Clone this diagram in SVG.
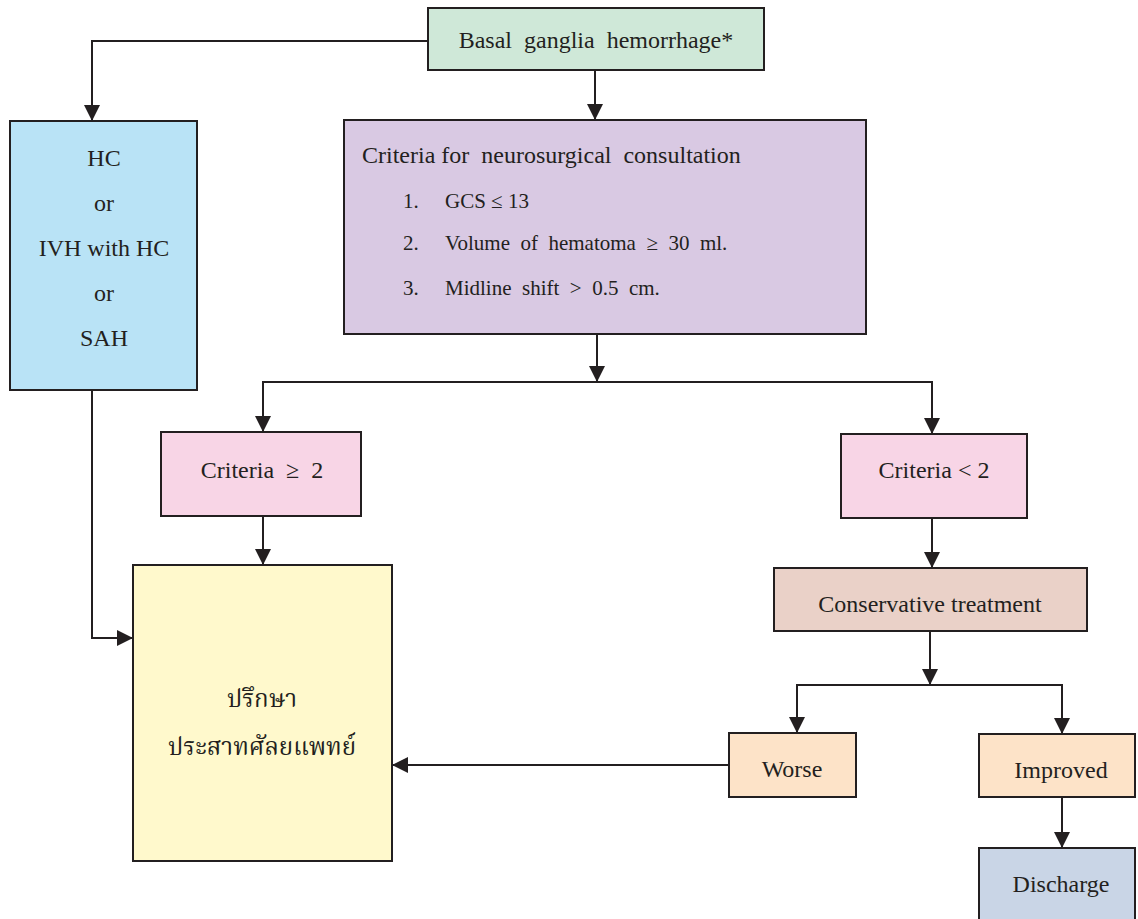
<svg xmlns="http://www.w3.org/2000/svg" width="1138" height="919" viewBox="0 0 1138 919">
<style>
.box{stroke:#231f20;stroke-width:2}
.t{font-family:"Liberation Serif","Times New Roman",serif;font-size:24px;fill:#231f20;white-space:pre}
.s{font-family:"Liberation Serif","Times New Roman",serif;font-size:21px;fill:#231f20;white-space:pre}
.th{font-family:"Noto Serif Thai","Noto Sans Thai Looped","Noto Sans Thai","Noto Sans","DejaVu Sans",sans-serif;font-size:24px;fill:#231f20}
.c{text-anchor:middle}
.ln{fill:none;stroke:#231f20;stroke-width:2;marker-end:url(#arr)}
</style>
<defs>
<marker id="arr" viewBox="0 0 16 16" refX="16" refY="8" markerWidth="16" markerHeight="16" markerUnits="userSpaceOnUse" orient="auto">
<path d="M0,0 L16,8 L0,16 z" fill="#231f20"/>
</marker>
</defs>
<rect width="1138" height="919" fill="#ffffff"/>
<g id="connectors">
<path class="ln" d="M428,41 H92 V121"/>
<path class="ln" d="M595,70 V120"/>
<path class="ln" d="M597,334 V382"/>
<path class="ln" d="M597,382 H263 V432"/>
<path class="ln" d="M597,382 H932 V434"/>
<path class="ln" d="M92,390 V638 H133"/>
<path class="ln" d="M263,516 V565"/>
<path class="ln" d="M932,518 V568"/>
<path class="ln" d="M930,631 V685"/>
<path class="ln" d="M930,685 H797 V733"/>
<path class="ln" d="M930,685 H1062 V734"/>
<path class="ln" d="M729,765 H392"/>
<path class="ln" d="M1062,797 V848"/>
</g>
<g id="basal">
<rect class="box" x="428" y="8" width="336" height="62" fill="#cfe8d8"/>
<text class="t c" x="596" y="48">Basal  ganglia  hemorrhage*</text>
</g>
<g id="hc">
<rect class="box" x="10" y="121" width="187" height="269" fill="#b9e3f6"/>
<text class="t c" x="104" y="166">HC</text>
<text class="t c" x="104" y="211">or</text>
<text class="t c" x="104" y="256">IVH with HC</text>
<text class="t c" x="104" y="301">or</text>
<text class="t c" x="104" y="346">SAH</text>
</g>
<g id="criteria">
<rect class="box" x="344" y="120" width="522" height="214" fill="#d9c9e3"/>
<text class="t" x="362" y="163">Criteria for  neurosurgical  consultation</text>
<text class="s" x="403" y="208">1.</text>
<text class="s" x="445" y="208">GCS ≤ 13</text>
<text class="s" x="403" y="250">2.</text>
<text class="s" x="445" y="250">Volume  of  hematoma  ≥  30  ml.</text>
<text class="s" x="403" y="295">3.</text>
<text class="s" x="445" y="295">Midline  shift  &gt;  0.5  cm.</text>
</g>
<g id="crit-ge2">
<rect class="box" x="161" y="432" width="200" height="84" fill="#f8d5e6"/>
<text class="t c" x="262" y="478">Criteria  ≥  2</text>
</g>
<g id="crit-lt2">
<rect class="box" x="841" y="434" width="186" height="84" fill="#f8d5e6"/>
<text class="t c" x="934" y="478">Criteria &lt; 2</text>
</g>
<g id="consult">
<rect class="box" x="133" y="565" width="259" height="296" fill="#fff9cc"/>
<text class="th c" x="262" y="707">ปรึกษา</text>
<text class="th c" x="262" y="755">ประสาทศัลยแพทย์</text>
</g>
<g id="conservative">
<rect class="box" x="774" y="568" width="313" height="63" fill="#ead1c8"/>
<text class="t c" x="930" y="612">Conservative treatment</text>
</g>
<g id="worse">
<rect class="box" x="729" y="733" width="127" height="64" fill="#fde3c8"/>
<text class="t c" x="792" y="777">Worse</text>
</g>
<g id="improved">
<rect class="box" x="979" y="734" width="156" height="63" fill="#fde3c8"/>
<text class="t c" x="1061" y="778">Improved</text>
</g>
<g id="discharge">
<rect class="box" x="979" y="848" width="156" height="80" fill="#c9d5e6"/>
<text class="t c" x="1061" y="892">Discharge</text>
</g>
</svg>
